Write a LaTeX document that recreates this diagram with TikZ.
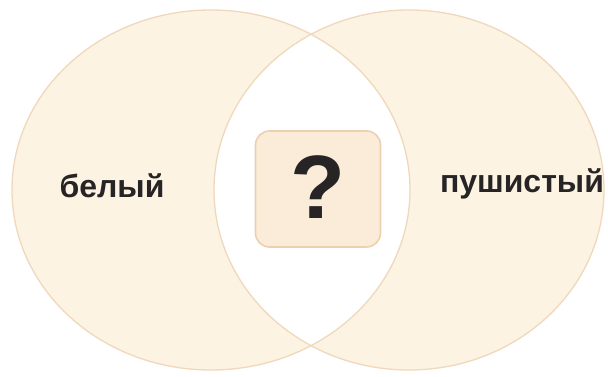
\documentclass[tikz,border=0pt]{standalone}
\usepackage{fontspec}
\setmainfont{Liberation Sans}
\definecolor{peach}{RGB}{253,243,227}
\definecolor{edgec}{RGB}{240,216,188}
\definecolor{boxfill}{RGB}{251,236,217}
\definecolor{boxedge}{RGB}{236,208,176}
\definecolor{ink}{RGB}{38,36,36}
\begin{document}
\begin{tikzpicture}[x=1pt,y=-1pt,
  lbl/.style={font=\fontsize{32}{32}\selectfont\bfseries, text=ink, inner sep=0pt},
  qbox/.style={draw=boxedge, fill=boxfill, line width=1.6pt, rounded corners=14pt, minimum width=125pt, minimum height=116pt, inner sep=0pt},
  ring/.style={draw=edgec, line width=1.3pt}]
\useasboundingbox (0,0) rectangle (608,377);
\fill[white] (0,0) rectangle (608,377);
\fill[peach, even odd rule] (211,190) ellipse [x radius=199pt, y radius=180pt]
  (409,190) ellipse [x radius=195pt, y radius=180pt];
\draw[ring] (211,190) ellipse [x radius=199pt, y radius=180pt];
\draw[ring] (409,190) ellipse [x radius=195pt, y radius=180pt];
\node[qbox] (q) at (318,189) {};
\node[font=\fontsize{90}{90}\selectfont\bfseries, text=ink, inner sep=0pt] (qm) at (318,187) {?};
\node[lbl] (a) at (112,186) {белый};
\node[lbl] (b) at (522,184) {пушистый};
\end{tikzpicture}
\end{document}
